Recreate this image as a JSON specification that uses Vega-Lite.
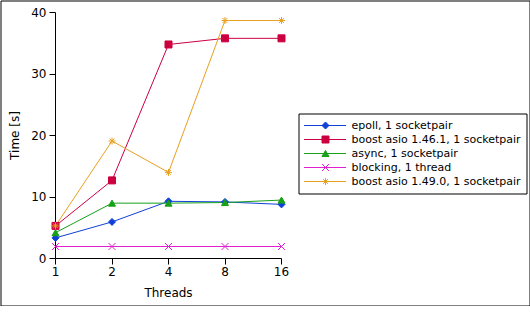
{
  "$schema": "https://vega.github.io/schema/vega-lite/v6.json",
  "width": 529,
  "height": 305,
  "autosize": {"type": "none"},
  "padding": {"left": 0.5, "top": 0.5, "right": 0.5, "bottom": 0.5},
  "background": "white",
  "config": {
    "view": {"stroke": "black", "strokeWidth": 1},
    "font": "DejaVu Sans",
    "axis": {
      "grid": false, "domainColor": "black", "tickColor": "black", "labelColor": "black", "titleColor": "black",
      "labelFont": "DejaVu Sans", "titleFont": "DejaVu Sans", "labelFontSize": 12, "titleFontSize": 12,
      "titleFontWeight": "normal", "tickSize": 6, "translate": 0, "domainWidth": 1, "tickWidth": 1, "labelFlush": false
    }
  },
  "data": {"values": [
    {"threads": 1, "time": 3.35, "series": "epoll, 1 socketpair", "label": "epoll, 1 socketpair"},
    {"threads": 2, "time": 5.95, "series": "epoll, 1 socketpair", "label": "epoll, 1 socketpair"},
    {"threads": 4, "time": 9.3, "series": "epoll, 1 socketpair", "label": "epoll, 1 socketpair"},
    {"threads": 8, "time": 9.2, "series": "epoll, 1 socketpair", "label": "epoll, 1 socketpair"},
    {"threads": 16, "time": 8.8, "series": "epoll, 1 socketpair", "label": "epoll, 1 socketpair"},
    {"threads": 1, "time": 5.3, "series": "boost asio 1.46.1, 1 socketpair", "label": "boost asio 1.46.1, 1 socketpair"},
    {"threads": 2, "time": 12.7, "series": "boost asio 1.46.1, 1 socketpair", "label": "boost asio 1.46.1, 1 socketpair"},
    {"threads": 4, "time": 34.8, "series": "boost asio 1.46.1, 1 socketpair", "label": "boost asio 1.46.1, 1 socketpair"},
    {"threads": 8, "time": 35.8, "series": "boost asio 1.46.1, 1 socketpair", "label": "boost asio 1.46.1, 1 socketpair"},
    {"threads": 16, "time": 35.8, "series": "boost asio 1.46.1, 1 socketpair", "label": "boost asio 1.46.1, 1 socketpair"},
    {"threads": 1, "time": 4.2, "series": "async, 1 socketpair", "label": "async, 1 socketpair"},
    {"threads": 2, "time": 9.0, "series": "async, 1 socketpair", "label": "async, 1 socketpair"},
    {"threads": 4, "time": 9.0, "series": "async, 1 socketpair", "label": "async, 1 socketpair"},
    {"threads": 8, "time": 9.1, "series": "async, 1 socketpair", "label": "async, 1 socketpair"},
    {"threads": 16, "time": 9.5, "series": "async, 1 socketpair", "label": "async, 1 socketpair"},
    {"threads": 1, "time": 1.95, "series": "blocking, 1 thread", "label": "blocking, 1 thread"},
    {"threads": 2, "time": 1.95, "series": "blocking, 1 thread", "label": "blocking, 1 thread"},
    {"threads": 4, "time": 1.95, "series": "blocking, 1 thread", "label": "blocking, 1 thread"},
    {"threads": 8, "time": 1.95, "series": "blocking, 1 thread", "label": "blocking, 1 thread"},
    {"threads": 16, "time": 1.95, "series": "blocking, 1 thread", "label": "blocking, 1 thread"},
    {"threads": 1, "time": 5.3, "series": "boost asio 1.49.0, 1 socketpair", "label": "boost asio 1.49.0, 1 socketpair"},
    {"threads": 2, "time": 19.1, "series": "boost asio 1.49.0, 1 socketpair", "label": "boost asio 1.49.0, 1 socketpair"},
    {"threads": 4, "time": 14.0, "series": "boost asio 1.49.0, 1 socketpair", "label": "boost asio 1.49.0, 1 socketpair"},
    {"threads": 8, "time": 38.7, "series": "boost asio 1.49.0, 1 socketpair", "label": "boost asio 1.49.0, 1 socketpair"},
    {"threads": 16, "time": 38.7, "series": "boost asio 1.49.0, 1 socketpair", "label": "boost asio 1.49.0, 1 socketpair"}
  ]},
  "layer": [
    {
      "mark": {"type": "line", "strokeWidth": 1},
      "encoding": {
        "x": {"field": "threads", "type": "quantitative",
          "scale": {"type": "log", "base": 2, "domain": [1, 16], "range": [55, 281]},
          "axis": {"values": [1, 2, 4, 8, 16], "format": "d", "title": "Threads", "offset": -47, "labelPadding": 2, "titlePadding": 10}},
        "y": {"field": "time", "type": "quantitative",
          "scale": {"domain": [0, 40], "range": [258, 12], "nice": false},
          "axis": {"values": [0, 10, 20, 30, 40], "title": "Time [s]", "offset": -55, "labelPadding": 3, "titlePadding": 9}},
        "color": {"field": "label", "type": "nominal",
          "sort": ["epoll, 1 socketpair", "boost asio 1.46.1, 1 socketpair", "async, 1 socketpair", "blocking, 1 thread", "boost asio 1.49.0, 1 socketpair"],
          "scale": {"range": ["#1040d8", "#cc0040", "#18a018", "#e020d0", "#e8a020"]},
          "legend": {"title": null, "orient": "none", "legendX": 298, "legendY": 113, "symbolType": "stroke", "symbolSize": 1764, "symbolStrokeWidth": 1, "symbolOffset": 0, "clipHeight": 14, "rowPadding": 0, "padding": 5, "strokeColor": "black", "labelFont": "DejaVu Sans", "labelFontSize": 11, "labelColor": "black", "labelOffset": 5, "labelLimit": 400}}
      }
    },
    {
      "mark": {"type": "point", "filled": true, "opacity": 1, "size": 49, "strokeWidth": 1},
      "encoding": {
        "x": {"field": "threads", "type": "quantitative"},
        "y": {"field": "time", "type": "quantitative"},
        "fill": {"field": "series", "type": "nominal",
          "scale": {"domain": ["epoll, 1 socketpair", "boost asio 1.46.1, 1 socketpair", "async, 1 socketpair", "blocking, 1 thread", "boost asio 1.49.0, 1 socketpair"], "range": ["#1040d8", "#cc0040", "#18a018", "#e020d0", "#f8d890"]},
          "legend": {"title": null, "orient": "none", "legendX": 298, "legendY": 113, "symbolSize": 49, "symbolStrokeWidth": 1, "symbolOffset": 16.5, "clipHeight": 14, "rowPadding": 0, "padding": 5, "labelFont": "DejaVu Sans", "labelFontSize": 11, "labelExpr": "''", "labelOffset": 5, "labelLimit": 400, "symbolOpacity": 1}},
        "stroke": {"field": "series", "type": "nominal",
          "scale": {"domain": ["epoll, 1 socketpair", "boost asio 1.46.1, 1 socketpair", "async, 1 socketpair", "blocking, 1 thread", "boost asio 1.49.0, 1 socketpair"], "range": ["#1040d8", "#cc0040", "#18a018", "#e020d0", "#e8a020"]},
          "legend": {"title": null, "orient": "none", "legendX": 298, "legendY": 113, "symbolSize": 49, "symbolStrokeWidth": 1, "symbolOffset": 16.5, "clipHeight": 14, "rowPadding": 0, "padding": 5, "labelFont": "DejaVu Sans", "labelFontSize": 11, "labelExpr": "''", "labelOffset": 5, "labelLimit": 400, "symbolOpacity": 1}},
        "shape": {"field": "series", "type": "nominal",
          "scale": {"domain": ["epoll, 1 socketpair", "boost asio 1.46.1, 1 socketpair", "async, 1 socketpair", "blocking, 1 thread", "boost asio 1.49.0, 1 socketpair"], "range": ["diamond", "square", "triangle-up", "M-1,-1L1,1M-1,1L1,-1", "M-1,0L1,0M0,-1L0,1M-0.7,-0.7L0.7,0.7M-0.7,0.7L0.7,-0.7"]},
          "legend": {"title": null, "orient": "none", "legendX": 298, "legendY": 113, "symbolSize": 49, "symbolStrokeWidth": 1, "symbolOffset": 16.5, "clipHeight": 14, "rowPadding": 0, "padding": 5, "labelFont": "DejaVu Sans", "labelFontSize": 11, "labelExpr": "''", "labelOffset": 5, "labelLimit": 400, "symbolOpacity": 1}}
      }
    }
  ]
}
